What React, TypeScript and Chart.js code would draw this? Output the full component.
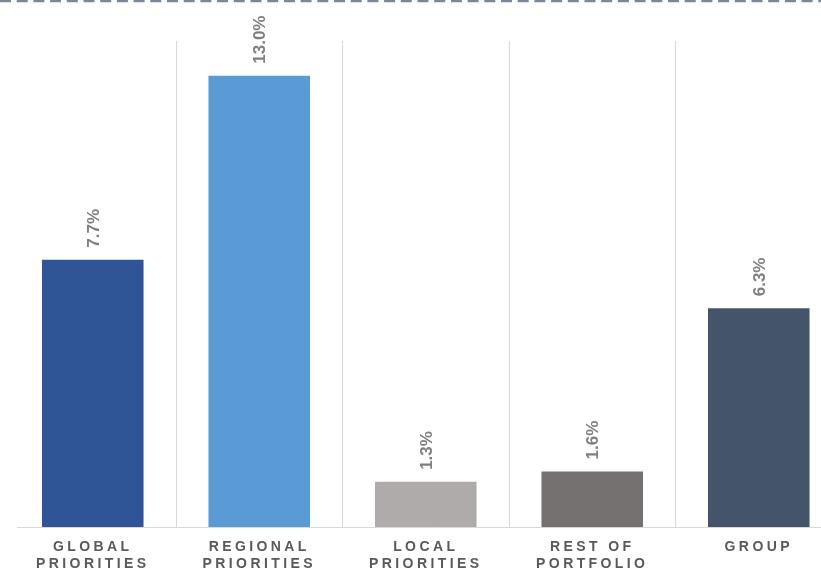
import React, { useEffect, useRef } from "react";
import { Chart, registerables } from "chart.js";

Chart.register(...registerables);

const categories: string[][] = [
  ["GLOBAL", "PRIORITIES"],
  ["REGIONAL", "PRIORITIES"],
  ["LOCAL", "PRIORITIES"],
  ["REST OF", "PORTFOLIO"],
  ["GROUP"],
];
const values: number[] = [7.7, 13.0, 1.3, 1.6, 6.3];
const barColors: string[] = ["#2F5597", "#5B9BD5", "#AFABAB", "#757171", "#44546A"];
const yMax = 14;

const FONT = "'Liberation Sans', Arial, sans-serif";

export default function App() {
  const ref = useRef<HTMLCanvasElement | null>(null);

  useEffect(() => {
    const canvas = ref.current;
    if (!canvas) return;

    const spacingPlugin = {
      id: "spacing",
      beforeDraw(chart: any) {
        (chart.ctx as any).letterSpacing = "3.4px";
      },
      beforeDatasetsDraw(chart: any) {
        (chart.ctx as any).letterSpacing = "0px";
      },
    };

    const decorPlugin = {
      id: "decor",
      beforeDatasetsDraw(chart: any) {
        const ctx = chart.ctx;
        const y = chart.scales.y.getPixelForValue(0);
        ctx.save();
        ctx.strokeStyle = "#D9D9D9";
        ctx.lineWidth = 1;
        ctx.beginPath();
        ctx.moveTo(17, Math.round(y) + 0.5);
        ctx.lineTo(chart.width, Math.round(y) + 0.5);
        ctx.stroke();
        ctx.restore();
      },
      afterDraw(chart: any) {
        const ctx = chart.ctx;
        ctx.save();
        ctx.strokeStyle = "#7B8797";
        ctx.lineWidth = 2.5;
        ctx.setLineDash([11, 5.7]);
        ctx.beginPath();
        ctx.moveTo(0, 1);
        ctx.lineTo(chart.width, 1);
        ctx.stroke();
        ctx.restore();
      },
    };

    const labelPlugin = {
      id: "valueLabels",
      afterDatasetsDraw(chart: any) {
        const ctx = chart.ctx;
        const meta = chart.getDatasetMeta(0);
        ctx.save();
        (ctx as any).letterSpacing = "0px";
        ctx.font = `bold 17px ${FONT}`;
        ctx.fillStyle = "#7F7F7F";
        ctx.textAlign = "left";
        ctx.textBaseline = "alphabetic";
        meta.data.forEach((bar: any, i: number) => {
          const txt = values[i].toFixed(1) + "%";
          ctx.save();
          ctx.translate(bar.x + 6, bar.y - 12);
          ctx.rotate(-Math.PI / 2);
          ctx.fillText(txt, 0, 0);
          ctx.restore();
        });
        ctx.restore();
      },
    };

    const chart = new Chart(canvas, {
      type: "bar",
      data: {
        labels: categories,
        datasets: [
          {
            data: values,
            backgroundColor: barColors,
            borderWidth: 0,
            categoryPercentage: 1,
            barPercentage: 0.61,
          },
        ],
      },
      options: {
        responsive: false,
        animation: false,
        layout: { padding: { left: 9.5, right: 8, top: 41, bottom: 0 } },
        plugins: {
          legend: { display: false },
          tooltip: { enabled: false },
        },
        scales: {
          x: {
            grid: {
              offset: true,
              drawTicks: false,
              lineWidth: 1,
              color: (c: any) => (c.index === 0 ? "rgba(0,0,0,0)" : "#D9D9D9"),
            },
            border: { display: false },
            ticks: {
              color: "#595959",
              font: { family: FONT, size: 14, weight: "bold", lineHeight: 1.2 },
              padding: 12,
              maxRotation: 0,
              autoSkip: false,
            },
            afterFit: (s: any) => {
              s.height = 43;
            },
          },
          y: {
            display: false,
            min: 0,
            max: yMax,
          },
        },
      },
      plugins: [spacingPlugin, decorPlugin, labelPlugin],
    });

    return () => chart.destroy();
  }, []);

  return (
    <div
      style={{
        position: "absolute",
        left: 0,
        top: 0,
        width: 821,
        height: 570,
        overflow: "hidden",
        background: "#fff",
      }}
    >
      <canvas ref={ref} width={850} height={570} style={{ width: 850, height: 570, display: "block" }} />
    </div>
  );
}
